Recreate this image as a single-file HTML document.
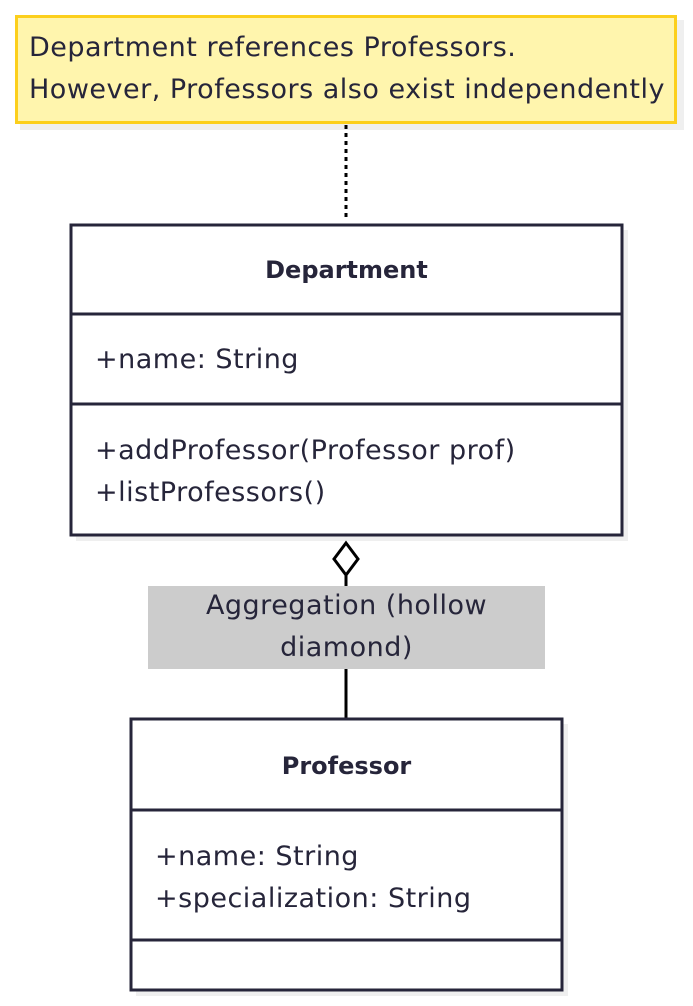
<!DOCTYPE html>
<html><head><meta charset="utf-8"><style>
body{margin:0;width:693px;height:1006px;background:#fff;position:relative;overflow:hidden;font-family:"DejaVu Sans","Liberation Sans",sans-serif;color:#26253a}
.a{position:absolute;box-sizing:border-box}
.t{position:absolute;white-space:nowrap;font-size:27px;letter-spacing:0.5px}
.b{font-size:24px;letter-spacing:0;font-weight:bold}
</style></head><body>
<div class="a" style="left:20px;top:20px;width:664px;height:110px;background:#efefef"></div>
<div class="a" style="left:15px;top:15px;width:662px;height:109px;background:#fff5ad;border:3px solid #fccf1c"></div>
<div class="t" style="left:29px;top:32px">Department references Professors.</div>
<div class="t" style="left:29px;top:74px">However, Professors also exist independently</div>
<svg class="a" style="left:0;top:0" width="693" height="1006">
<line x1="346" y1="125" x2="346" y2="218" stroke="#000" stroke-width="3" stroke-dasharray="4 4"/>
<rect x="76" y="230" width="552" height="311" fill="#efefef"/>
<rect x="71" y="225" width="551" height="310" fill="#fff" stroke="#26253a" stroke-width="3"/>
<line x1="71" y1="314" x2="622" y2="314" stroke="#26253a" stroke-width="3"/>
<line x1="71" y1="404" x2="622" y2="404" stroke="#26253a" stroke-width="3"/>
<line x1="346" y1="575" x2="346" y2="718" stroke="#000" stroke-width="3"/>
<polygon points="346,543 358,559 346,575 334,559" fill="#fff" stroke="#000" stroke-width="3"/>
<rect x="148" y="586" width="397" height="83" fill="#cccccc"/>
<rect x="136" y="724" width="432" height="272" fill="#efefef"/>
<rect x="131" y="719" width="431" height="271" fill="#fff" stroke="#26253a" stroke-width="3"/>
<line x1="131" y1="810" x2="562" y2="810" stroke="#26253a" stroke-width="3"/>
<line x1="131" y1="940" x2="562" y2="940" stroke="#26253a" stroke-width="3"/>
</svg>
<div class="t b" style="left:71px;width:551px;text-align:center;top:256px">Department</div>
<div class="t" style="left:95px;top:344px">+name: String</div>
<div class="t" style="left:95px;top:435px">+addProfessor(Professor prof)</div>
<div class="t" style="left:95px;top:477px">+listProfessors()</div>
<div class="t" style="left:148px;width:397px;text-align:center;top:590px">Aggregation (hollow</div>
<div class="t" style="left:148px;width:397px;text-align:center;top:632px">diamond)</div>
<div class="t b" style="left:131px;width:431px;text-align:center;top:752px">Professor</div>
<div class="t" style="left:155px;top:841px">+name: String</div>
<div class="t" style="left:155px;top:883px">+specialization: String</div>
</body></html>
